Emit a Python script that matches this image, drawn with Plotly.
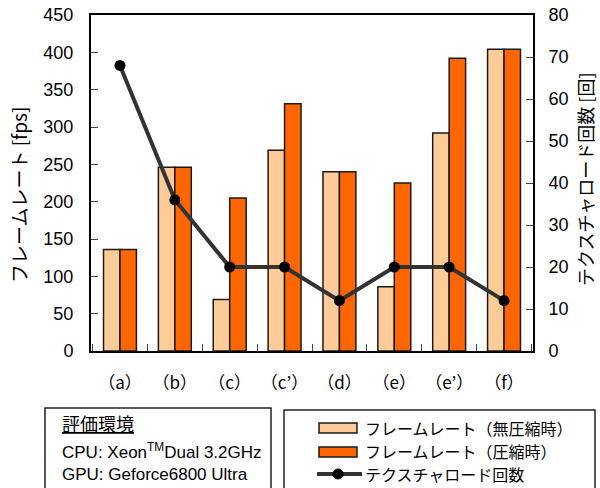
import plotly.graph_objects as go

categories = ["（a）", "（b）", "（c）", "（c’）", "（d）", "（e）", "（e’）", "（f）"]
fps_uncompressed = [136, 246, 69, 269, 240, 86, 292, 404]
fps_compressed = [136, 246, 205, 331, 240, 225, 392, 404]
texture_loads = [68, 36, 20, 20, 12, 20, 20, 12]

name_unc = "フレームレート（無圧縮時）"
name_cmp = "フレームレート（圧縮時）"
name_load = "テクスチャロード回数"

JP = "Noto Sans CJK JP"
NUM = "Liberation Sans, Arial, Noto Sans CJK JP"

L, R, T, B = 91, 533, 15, 351
W, H = R - L, B - T


def px(x):
    return (x - L) / W


def py(y):
    return (B - y) / H


fig = go.Figure()
fig.add_trace(go.Bar(x=categories, y=fps_uncompressed, name=name_unc,
                     marker=dict(color="#FFCC99", line=dict(color="#1a1a1a", width=1.5))))
fig.add_trace(go.Bar(x=categories, y=fps_compressed, name=name_cmp,
                     marker=dict(color="#FF6600", line=dict(color="#1a1a1a", width=1.5))))
fig.add_trace(go.Scatter(x=categories, y=texture_loads, name=name_load, yaxis="y2",
                         mode="lines+markers",
                         line=dict(color="#333333", width=4),
                         marker=dict(color="#000000", size=11)))

shapes = []
annotations = []

# left info box
shapes.append(dict(type="rect", xref="paper", yref="paper",
                   x0=px(45), x1=px(271), y0=py(495), y1=py(408),
                   line=dict(color="#222", width=1.5), fillcolor="rgba(0,0,0,0)"))
info_lines = [("<u>評価環境</u>", 423, JP, 18), ("CPU: Xeon<sup>TM</sup>Dual 3.2GHz", 451, NUM, 17),
              ("GPU: Geforce6800 Ultra", 474, NUM, 17)]
for txt, yy, fam, fs in info_lines:
    annotations.append(dict(text=txt, xref="paper", yref="paper", x=px(60), y=py(yy),
                            xanchor="left", yanchor="middle", showarrow=False,
                            font=dict(family=fam, size=fs, color="#000")))

# right legend box
shapes.append(dict(type="rect", xref="paper", yref="paper",
                   x0=px(284), x1=px(595), y0=py(495), y1=py(410),
                   line=dict(color="#222", width=1.5), fillcolor="rgba(0,0,0,0)"))
shapes.append(dict(type="rect", xref="paper", yref="paper",
                   x0=px(319), x1=px(357), y0=py(433), y1=py(423),
                   line=dict(color="#1a1a1a", width=1.5), fillcolor="#FFCC99"))
shapes.append(dict(type="rect", xref="paper", yref="paper",
                   x0=px(319), x1=px(357), y0=py(457), y1=py(447),
                   line=dict(color="#1a1a1a", width=1.5), fillcolor="#FF6600"))
shapes.append(dict(type="line", xref="paper", yref="paper",
                   x0=px(317), x1=px(362), y0=py(474), y1=py(474),
                   line=dict(color="#333333", width=4)))
shapes.append(dict(type="circle", xref="paper", yref="paper",
                   x0=px(333), x1=px(343), y0=py(479), y1=py(469),
                   line=dict(color="#000", width=1), fillcolor="#000"))
for txt, yy in [(name_unc, 428), (name_cmp, 451), (name_load, 474)]:
    annotations.append(dict(text=txt, xref="paper", yref="paper", x=px(363), y=py(yy),
                            xanchor="left", yanchor="middle", showarrow=False,
                            font=dict(family=JP, size=16, color="#000")))

# axis titles
annotations.append(dict(text="フレームレート [fps]", xref="paper", yref="paper",
                        x=px(18), y=py(195), textangle=-90, showarrow=False,
                        xanchor="center", yanchor="middle",
                        font=dict(family=JP, size=19, color="#000")))
annotations.append(dict(text="テクスチャロード回数 [回]", xref="paper", yref="paper",
                        x=px(585), y=py(180), textangle=-90, showarrow=False,
                        xanchor="center", yanchor="middle",
                        font=dict(family=JP, size=18, color="#000")))

fig.update_layout(
    width=600, height=488,
    margin=dict(l=L, r=600 - R, t=T, b=488 - B),
    paper_bgcolor="white", plot_bgcolor="white",
    showlegend=False,
    barmode="group", bargap=0.4, bargroupgap=0,
    shapes=shapes, annotations=annotations,
    xaxis=dict(type="category", showline=True, linecolor="#000", linewidth=2, mirror=True,
               ticks="inside", tickson="boundaries", ticklen=7, tickcolor="#444",
               tickfont=dict(family=JP, size=17, color="#000"), automargin=False,
               tickangle=0, ticklabelstandoff=16, showgrid=False),
    yaxis=dict(range=[0, 450], dtick=50, showline=True, linecolor="#000", linewidth=2,
               ticks="inside", ticklen=7, tickcolor="#444", showgrid=False, zeroline=False,
               automargin=False,
               tickfont=dict(family=NUM, size=18, color="#000"), ticklabelstandoff=12),
    yaxis2=dict(range=[0, 80], dtick=10, overlaying="y", side="right", showline=True,
                linecolor="#000", linewidth=2, ticks="inside", ticklen=7, tickcolor="#444",
                showgrid=False, zeroline=False, automargin=False,
                tickfont=dict(family=NUM, size=18, color="#000"), ticklabelstandoff=10),
)

fig.write_html("out.html", config={"displayModeBar": False},
               post_script="document.body.style.margin='0';document.body.style.overflow='hidden';")
